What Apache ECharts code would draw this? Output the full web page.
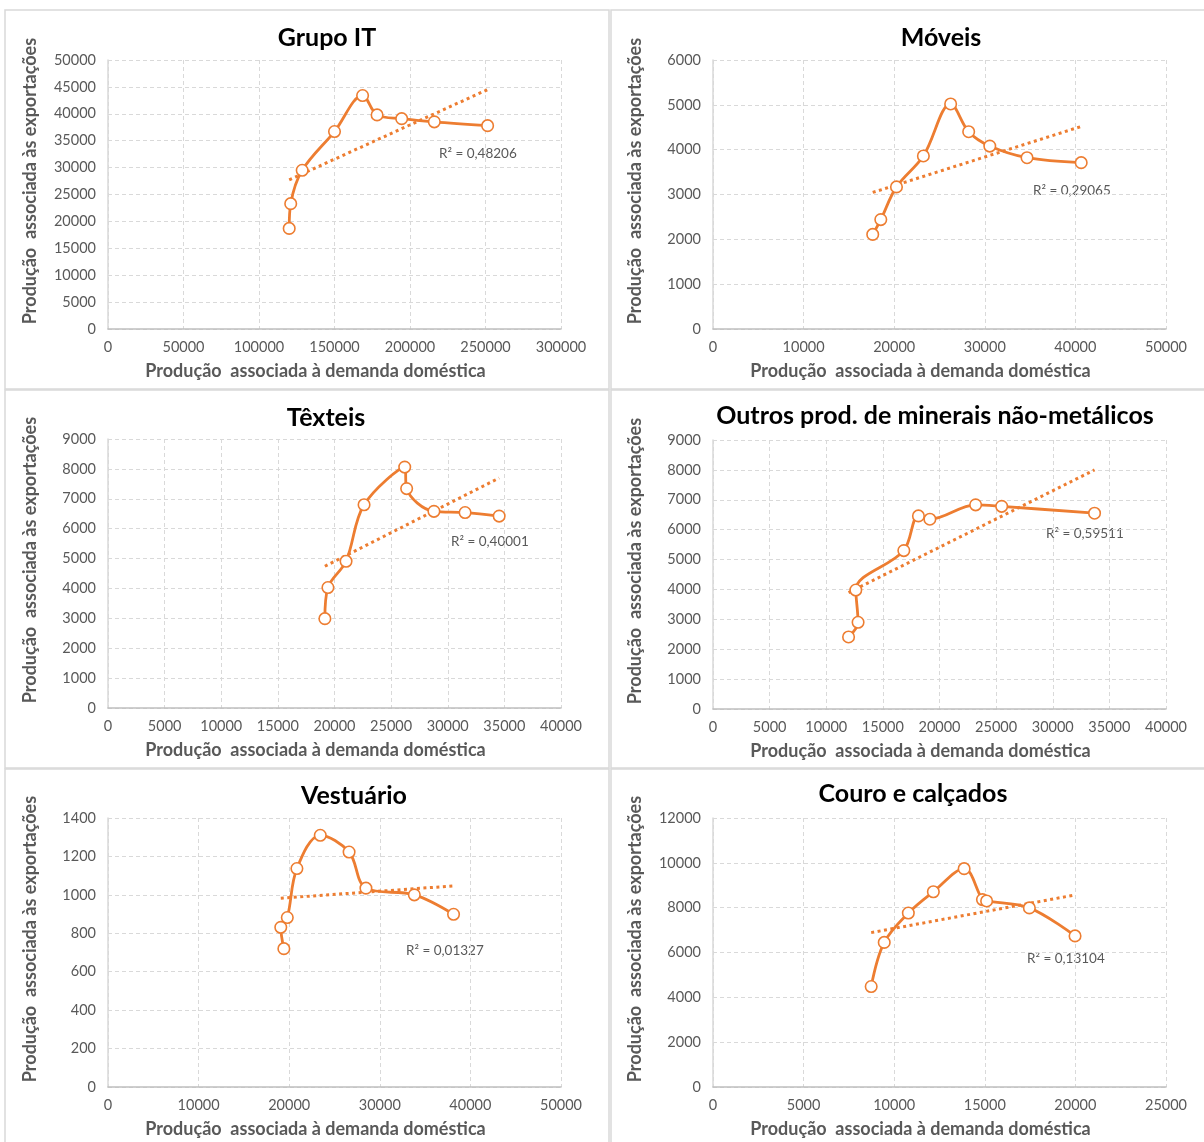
<!DOCTYPE html>
<html>
<head>
<meta charset="utf-8">
<script src="https://cdn.jsdelivr.net/npm/echarts@6/dist/echarts.min.js"></script>
<style>
html,body{margin:0;padding:0;background:#fff;}
#c{width:1204px;height:1142px;}
</style>
</head>
<body>
<div id="c"></div>
<script>
// ---- data ----
const titles = ["Grupo IT", "Móveis", "Têxteis", "Outros prod. de minerais não-metálicos", "Vestuário", "Couro e calçados"];
const r2Labels = ["R² = 0,48206", "R² = 0,29065", "R² = 0,40001", "R² = 0,59511", "R² = 0,01327", "R² = 0,13104"];

const itX = [120000, 121000, 128600, 150000, 168600, 178200, 194500, 216100, 251400];
const itY = [18700, 23300, 29500, 36700, 43400, 39800, 39100, 38500, 37800];
const moveisX = [17630, 18520, 20250, 23220, 26230, 28220, 30550, 34660, 40640];
const moveisY = [2110, 2440, 3170, 3860, 5020, 4400, 4080, 3820, 3710];
const texteisX = [19150, 19420, 21020, 22610, 26200, 26370, 28780, 31530, 34540];
const texteisY = [2990, 4030, 4910, 6800, 8060, 7340, 6580, 6540, 6420];
const outrosX = [11970, 12810, 12610, 16850, 18140, 19150, 23190, 25490, 33690];
const outrosY = [2410, 2900, 3980, 5300, 6460, 6350, 6830, 6780, 6550];
const vestX = [19410, 19070, 19790, 20850, 23430, 26610, 28470, 33810, 38140];
const vestY = [720, 831, 882, 1137, 1310, 1223, 1035, 1000, 899];
const couroX = [8730, 9450, 10780, 12160, 13860, 14870, 15100, 17460, 19980];
const couroY = [4480, 6450, 7760, 8710, 9740, 8360, 8300, 7990, 6740];

// axis ranges
const xAxisMax = [300000, 50000, 40000, 40000, 50000, 25000];
const xAxisStep = [50000, 10000, 5000, 5000, 10000, 5000];
const yAxisMax = [50000, 6000, 9000, 9000, 1400, 12000];
const yAxisStep = [5000, 1000, 1000, 1000, 200, 2000];

const xName = "Produção  associada à demanda doméstica";
const yName = "Produção  associada às exportações";

// ---- layout ----
const seriesX = [itX, moveisX, texteisX, outrosX, vestX, couroX];
const seriesY = [itY, moveisY, texteisY, outrosY, vestY, couroY];
const grids = [
  {left:108, top:60, width:453, height:269},
  {left:713, top:60, width:453, height:269},
  {left:108, top:439, width:453, height:269},
  {left:713, top:440, width:453, height:269},
  {left:108, top:818, width:453, height:269},
  {left:713, top:818, width:453, height:269}
];
const titlePos = [[327,38],[941,38],[326,418],[935,416],[354,796],[913,794]];
const r2Pos = [[439,154],[1033,191],[451,542],[1046,534],[406,951],[1027,959]];
const panels = [
  [5,10,604,379],[611,10,600,379],
  [5,390,604,378],[611,390,600,378],
  [5,769,604,380],[611,769,600,380]
];

const ORANGE = '#ED7D31';
const GRAY = '#595959';
const FONT = 'Lato, "Open Sans", sans-serif';

function regression(xs, ys){
  const n = xs.length;
  let mx=0,my=0; for(let i=0;i<n;i++){mx+=xs[i];my+=ys[i];} mx/=n; my/=n;
  let sxy=0,sxx=0; for(let i=0;i<n;i++){sxy+=(xs[i]-mx)*(ys[i]-my); sxx+=(xs[i]-mx)*(xs[i]-mx);}
  const b = sxy/sxx, a = my - b*mx;
  const x0 = Math.min(...xs), x1 = Math.max(...xs);
  return [[x0, a+b*x0],[x1, a+b*x1]];
}

const plain = v => String(v);

const option = {
  backgroundColor:'#fff',
  animation:false,
  grid: grids.map(g=>Object.assign({containLabel:false}, g)),
  xAxis: grids.map((g,i)=>({
    gridIndex:i, type:'value', min:0, max:xAxisMax[i], interval:xAxisStep[i],
    name:xName, nameLocation:'middle', nameGap:33,
    nameTextStyle:{color:GRAY, fontFamily:FONT, fontWeight:'bold', fontSize:18, padding:[0,38,0,0]},
    axisLine:{show:true, lineStyle:{color:'#bfbfbf', width:1.5}},
    axisTick:{show:false},
    axisLabel:{color:GRAY, fontFamily:FONT, fontSize:14.5, margin:11, formatter:plain},
    splitLine:{show:true, lineStyle:{color:'#d9d9d9', type:[4,3], width:1}}
  })),
  yAxis: grids.map((g,i)=>({
    gridIndex:i, type:'value', min:0, max:yAxisMax[i], interval:yAxisStep[i],
    name:yName, nameLocation:'middle', nameGap:69,
    nameTextStyle:{color:GRAY, fontFamily:FONT, fontWeight:'bold', fontSize:18, padding:[0,0,0,27]},
    axisLine:{show:true, lineStyle:{color:'#d9d9d9', width:1.5}},
    axisTick:{show:false},
    axisLabel:{color:GRAY, fontFamily:FONT, fontSize:14.5, margin:12, formatter:plain},
    splitLine:{show:true, lineStyle:{color:'#d9d9d9', type:[4,3], width:1}}
  })),
  series: [],
  graphic: []
};

seriesX.forEach((xs,i)=>{
  const ys = seriesY[i];
  option.series.push({
    type:'line', xAxisIndex:i, yAxisIndex:i,
    data: regression(xs, ys),
    symbol:'none', silent:true, z:3,
    lineStyle:{color:ORANGE, width:3, type:[3,3.5]}
  });
  option.series.push({
    type:'line', xAxisIndex:i, yAxisIndex:i,
    data: xs.map((x,k)=>[x, ys[k]]),
    smooth:0.35, symbol:'circle', symbolSize:11.5, z:4,
    lineStyle:{color:ORANGE, width:2.8},
    itemStyle:{color:'#ffffff', borderColor:ORANGE, borderWidth:1.6}
  });
});

panels.forEach(p=>{
  option.graphic.push({type:'rect', silent:true, z:-10,
    shape:{x:p[0], y:p[1], width:p[2], height:p[3]},
    style:{fill:null, stroke:'#d9d9d9', lineWidth:1.5}});
});
titles.forEach((t,i)=>{
  option.graphic.push({type:'text', x:titlePos[i][0], y:titlePos[i][1], silent:true,
    style:{text:t, font:'bold 25px '+FONT, fill:'#000', align:'center', verticalAlign:'middle'}});
});
r2Labels.forEach((t,i)=>{
  option.graphic.push({type:'text', x:r2Pos[i][0], y:r2Pos[i][1], silent:true,
    style:{text:t, font:'13.5px '+FONT, fill:GRAY, align:'left', verticalAlign:'middle'}});
});

const chart = echarts.init(document.getElementById('c'), null, {renderer:'canvas'});
chart.setOption(option);
</script>
</body>
</html>
